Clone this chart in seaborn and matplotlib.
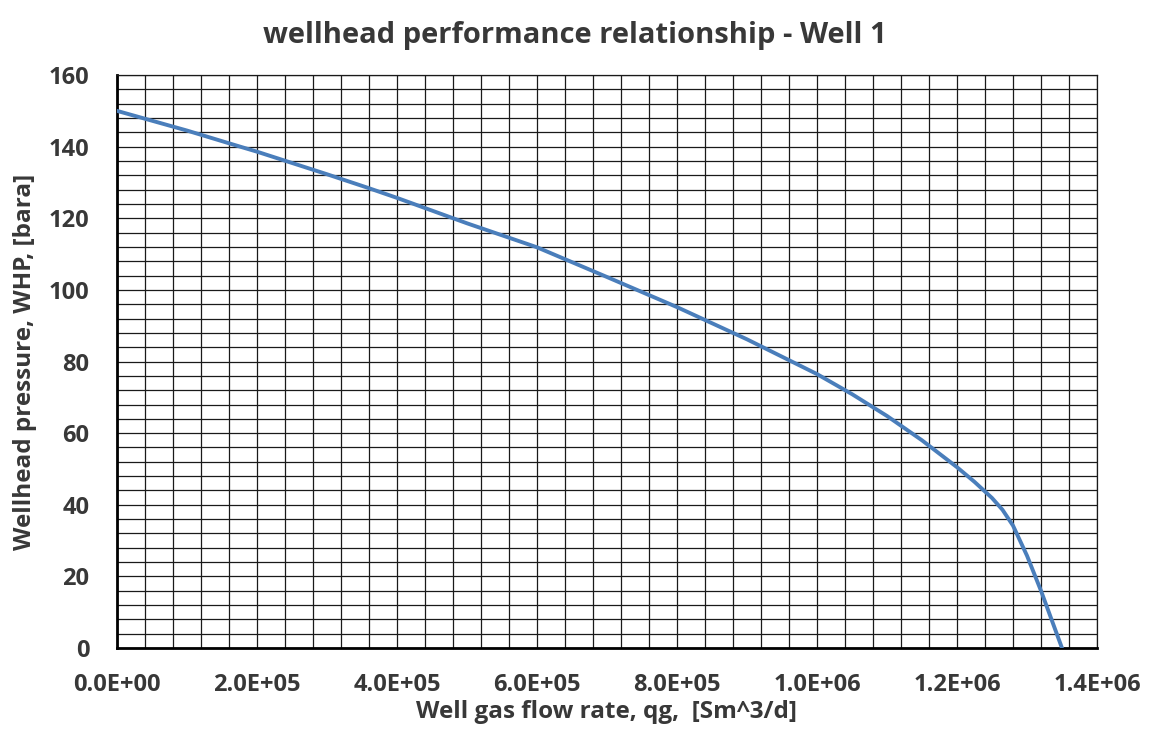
import matplotlib
matplotlib.use("Agg")
import matplotlib.pyplot as plt
from matplotlib.ticker import MultipleLocator, FuncFormatter
import seaborn as sns
import pandas as pd

# Wellhead performance relationship data
gas_rate = [0, 1.0e5, 1.76e5, 2.0e5, 3.0e5, 3.57e5, 4.0e5, 5.0e5, 6.0e5, 7.0e5,
            8.0e5, 9.0e5, 1.0e6, 1.05e6, 1.1e6, 1.15e6, 1.2e6, 1.225e6,
            1.25e6, 1.265e6, 1.28e6, 1.30e6, 1.32e6, 1.35e6]
whp = [150.0, 144.5, 140.0, 138.6, 132.3, 128.6, 125.7, 118.6, 111.9, 103.6,
       95.2, 86.2, 76.5, 70.9, 64.8, 58.0, 50.5, 46.4, 41.9, 38.6, 34.2,
       25.8, 16.0, 0.0]

df = pd.DataFrame({"qg": gas_rate, "whp": whp})

sns.set_theme(style="white")
plt.rcParams["font.family"] = ["Open Sans", "DejaVu Sans"]

TEXT = "#383838"

fig = plt.figure(figsize=(11.5, 7.4), dpi=100)
ax = fig.add_axes([0.1017, 0.1243, 0.8522, 0.7743])

sns.lineplot(data=df, x="qg", y="whp", ax=ax, color="#4A7EBB", linewidth=2.8,
             zorder=3)

ax.set_xlim(0, 1.4e6)
ax.set_ylim(0, 160)
ax.xaxis.set_major_locator(MultipleLocator(2e5))
ax.xaxis.set_minor_locator(MultipleLocator(4e4))
ax.yaxis.set_major_locator(MultipleLocator(20))
ax.yaxis.set_minor_locator(MultipleLocator(4))
ax.xaxis.set_major_formatter(FuncFormatter(lambda v, p: f"{v:.1E}"))

ax.grid(True, which="both", color="#1a1a1a", linewidth=0.9)
ax.set_axisbelow(True)

ax.tick_params(axis="x", which="major", direction="out", length=6,
               width=1.5, color="black", labelsize=17, pad=12)
ax.tick_params(axis="y", which="major", direction="out", length=8,
               width=1.5, color="black", labelsize=17, pad=12)
ax.tick_params(axis="both", which="minor", length=0)
for lab in ax.get_xticklabels() + ax.get_yticklabels():
    lab.set_fontweight("bold")
    lab.set_color(TEXT)

for side in ["left", "bottom"]:
    ax.spines[side].set_color("black")
    ax.spines[side].set_linewidth(2.0)
for side in ["top", "right"]:
    ax.spines[side].set_color("#1a1a1a")
    ax.spines[side].set_linewidth(0.9)

ax.set_xlabel("Well gas flow rate, qg,  [Sm^3/d]", fontsize=17.5,
              fontweight="bold", color=TEXT, labelpad=2)
ax.set_ylabel("Wellhead pressure, WHP, [bara]", fontsize=17.5,
              fontweight="bold", color=TEXT, labelpad=8)
fig.suptitle("wellhead performance relationship - Well 1", fontsize=21,
             fontweight="bold", color=TEXT, y=0.972)

fig.savefig("out.png", dpi=100, facecolor="white")
